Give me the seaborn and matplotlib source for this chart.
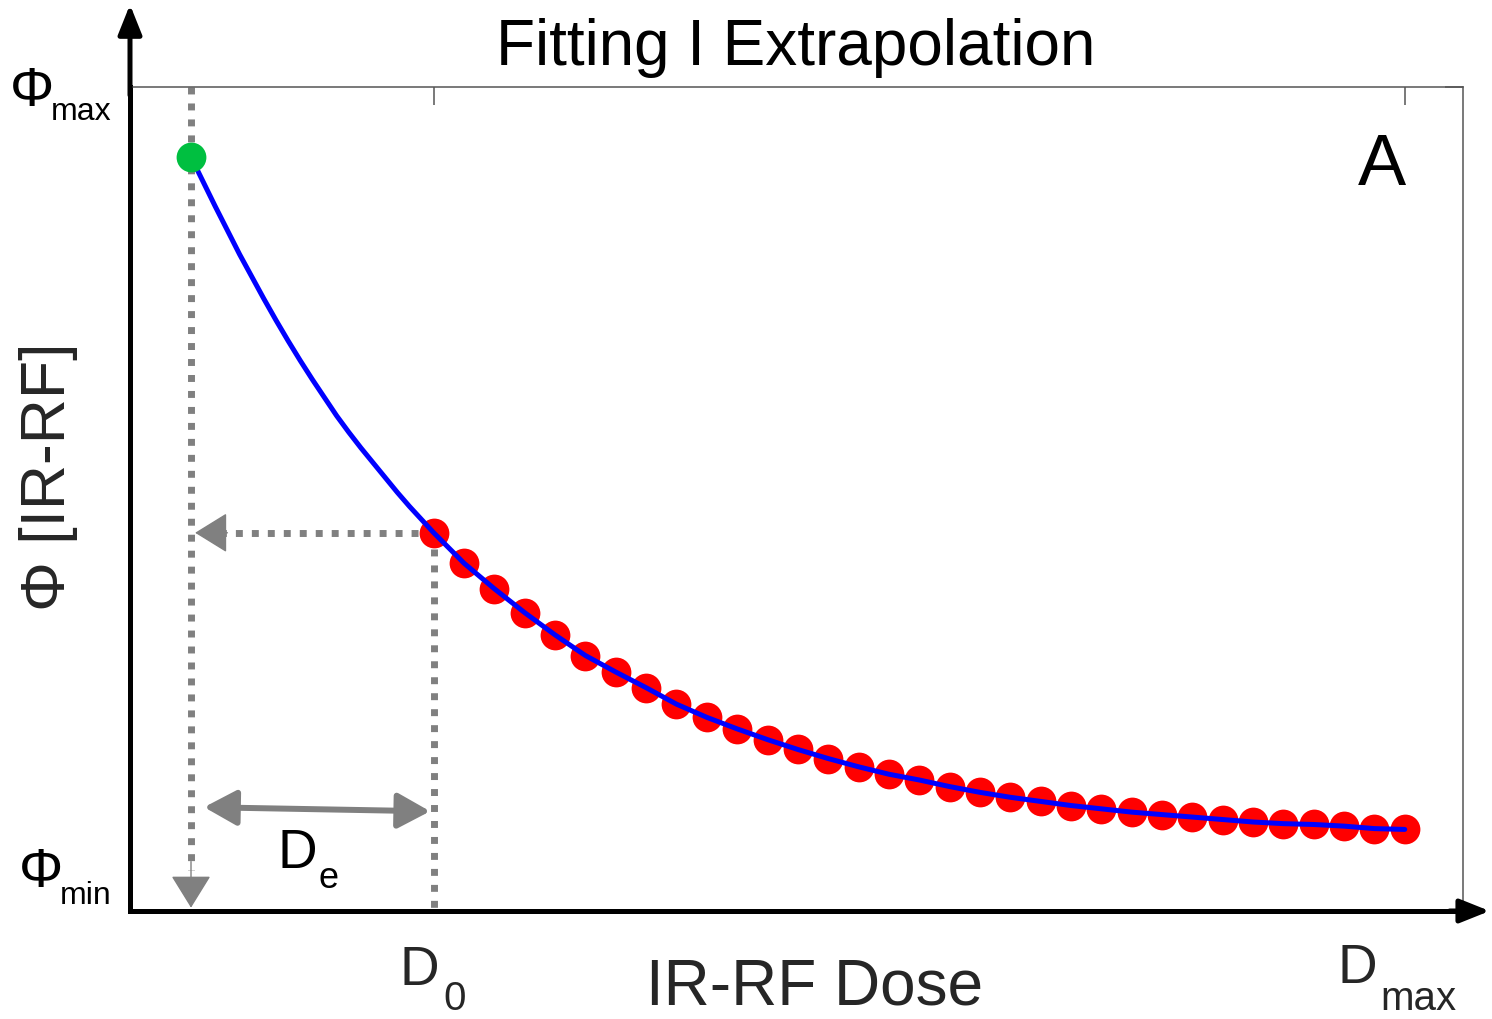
import numpy as np
import pandas as pd
import matplotlib.pyplot as plt
import seaborn as sns

# Data (dose in units where D0 = 1, phi scaled 0..1)
red_dose = [1.0, 1.125, 1.25, 1.375, 1.5, 1.625, 1.75, 1.875, 2.0, 2.125, 2.25,
            2.375, 2.5, 2.625, 2.75, 2.875, 3.0, 3.125, 3.25, 3.375, 3.5, 3.625,
            3.75, 3.875, 4.0, 4.125, 4.25, 4.375, 4.5, 4.625, 4.75, 4.875, 5.0]
red_phi = [0.459, 0.422, 0.391, 0.362, 0.335, 0.310, 0.290, 0.271, 0.251, 0.235,
           0.221, 0.208, 0.196, 0.185, 0.175, 0.166, 0.159, 0.151, 0.144, 0.138,
           0.133, 0.128, 0.124, 0.120, 0.117, 0.114, 0.111, 0.108, 0.106, 0.105,
           0.103, 0.100, 0.099]

# extrapolated part of the fit, from the green point down to D0
extra_dose = [0.0, 0.05, 0.1, 0.15, 0.2, 0.25, 0.3, 0.35, 0.4, 0.45, 0.5, 0.55,
              0.6, 0.65, 0.7, 0.75, 0.8, 0.85, 0.9, 0.95]
extra_phi = [0.915, 0.885, 0.855, 0.826, 0.797, 0.770, 0.743, 0.717, 0.692, 0.668,
             0.645, 0.623, 0.601, 0.581, 0.562, 0.544, 0.526, 0.508, 0.491, 0.475]

green_dose = [0.0]
green_phi = [0.915]

de_phi = [0.126, 0.121]   # level of the D_e double arrow (left, right)

df_red = pd.DataFrame({"dose": red_dose, "phi": red_phi})
df_fit = pd.DataFrame({"dose": extra_dose + red_dose, "phi": extra_phi + red_phi})
df_green = pd.DataFrame({"dose": green_dose, "phi": green_phi})

sns.set_style("white")
plt.rcParams["font.family"] = ["Liberation Sans", "DejaVu Sans"]

W, H = 1492, 1020
fig = plt.figure(figsize=(W / 100, H / 100), dpi=100)
ax = fig.add_axes([130 / W, 108 / H, 1333 / W, 824 / H])

grey = "#808080"
dot = dict(color=grey, lw=5, dashes=(1.0, 1.3), dash_capstyle="butt", zorder=1)

# dotted guides
ax.plot([0, 0], [1.0, 0.05], **dot)
ax.plot([1, 1], [red_phi[0], 0.0], **dot)
ax.plot([1, 0.14], [red_phi[0], red_phi[0]], **dot)

# grey arrow heads on the guides
head = dict(arrowstyle="-|>,head_length=0.55,head_width=0.34", color=grey,
            lw=1, mutation_scale=38, shrinkA=0, shrinkB=0)
ax.annotate("", xy=(0.017, red_phi[0]), xytext=(0.15, red_phi[0]), arrowprops=head)
ax.annotate("", xy=(0, 0.004), xytext=(0, 0.06), arrowprops=head)

# D_e double arrow
ax.annotate("", xy=(0.985, de_phi[1]), xytext=(0.054, de_phi[0]),
            arrowprops=dict(arrowstyle="<|-|>,head_length=0.55,head_width=0.3",
                            color=grey, lw=4.3, mutation_scale=36,
                            shrinkA=0, shrinkB=0))

sns.scatterplot(data=df_red, x="dose", y="phi", color="#ff0000", s=460,
                linewidth=0, ax=ax, zorder=3, legend=False)
sns.lineplot(data=df_fit, x="dose", y="phi", color="#0000ff", lw=3.6,
             sort=False, estimator=None, ax=ax, zorder=4, legend=False)
sns.scatterplot(data=df_green, x="dose", y="phi", color="#00bf40", s=460,
                linewidth=0, ax=ax, zorder=5, legend=False)

ax.set_xlim(-0.2513, 5.24)
ax.set_ylim(0, 1)
ax.set_xlabel("")
ax.set_ylabel("")

ax.set_xticks([1, 5], labels=["", ""])
ax.set_yticks([0, 1], labels=["", ""])
ax.tick_params(axis="both", direction="in", length=13, width=1.1, color="#555555",
               top=True, right=True)

for side in ["top", "right"]:
    ax.spines[side].set_linewidth(1.1)
    ax.spines[side].set_color("#555555")
for side in ["left", "bottom"]:
    ax.spines[side].set_linewidth(3.6)
    ax.spines[side].set_color("black")

# axis arrows
axis_arrow = dict(arrowstyle="-|>,head_length=0.5,head_width=0.2", color="black",
                  lw=3.6, mutation_scale=36, shrinkA=0, shrinkB=0)
ax.annotate("", xy=(0, 1.1), xytext=(0, 0.99), xycoords="axes fraction",
            arrowprops=axis_arrow, annotation_clip=False)
ax.annotate("", xy=(1.02, 0), xytext=(0.99, 0), xycoords="axes fraction",
            arrowprops=axis_arrow, annotation_clip=False)


def put(x, y, s, fs, color="black", **kw):
    # x, y in pixels from the top-left corner, y is the baseline
    fig.text(x / W, 1 - y / H, s, fontsize=fs, color=color, va="baseline", **kw)


# texts
put(796, 65, "Fitting I Extrapolation", 46, ha="center")
put(815, 1005, "IR-RF Dose", 46, color="#262626", ha="center")
fig.text(48 / W, 1 - 477 / H, "Φ [IR-RF]", fontsize=45, rotation=90,
         ha="center", va="center", color="#262626")
put(1382, 185, "A", 52, ha="center")

# labels with dropped subscripts
put(10, 106, "Φ", 40)
put(51, 120, "max", 23)
put(19, 887, "Φ", 40)
put(60, 904, "min", 23)
put(399, 985, "D", 39.5, color="#262626")
put(443, 1010, "0", 29, color="#262626")
put(1338, 983, "D", 39.5, color="#262626")
put(1380, 1010, "max", 29, color="#262626")
put(278, 868, "D", 39.5)
put(319, 888, "e", 26)

fig.savefig("out.png", dpi=100)
